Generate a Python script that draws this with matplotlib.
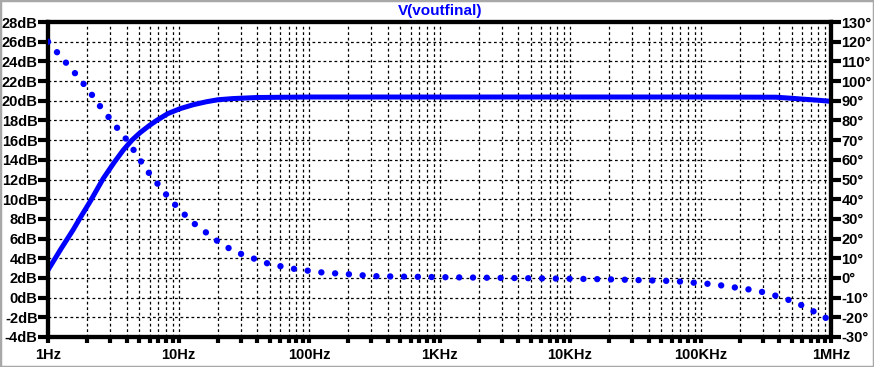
import matplotlib
matplotlib.use("Agg")
import matplotlib.pyplot as plt
from matplotlib.ticker import FixedLocator, LogLocator, NullFormatter
from matplotlib.patches import Rectangle

plt.rcParams['font.family'] = ['Liberation Sans', 'DejaVu Sans']

title = "V(voutfinal)"

# Magnitude (dB), left axis
mag_freq = [1, 1.25, 1.56, 1.8, 2.1, 2.65, 3.2, 3.78, 4.4, 5.07, 6.0, 6.8, 8.3, 10.3, 13, 16.4,
            20, 26, 40, 100, 1e3, 1e4, 1e5, 3.8e5, 5e5, 6.3e5, 8e5, 1e6]
mag_db = [2.8, 4.9, 6.9, 8.3, 9.75, 12.1, 13.7, 15.0, 16.0, 16.75, 17.5, 18.0, 18.7, 19.2, 19.6,
          19.9, 20.1, 20.22, 20.33, 20.38, 20.38, 20.38, 20.38, 20.36, 20.25, 20.15, 20.05, 19.94]

# Phase (degrees), right axis
ph_freq = [1, 1.61, 2.04, 2.5, 3.17, 4.12, 5.7, 8.1, 9.7, 12.6, 20.2, 25, 31.4, 50, 80, 129, 200,
           312, 1e3, 1e4, 2e4, 6.3e4, 1e5, 1.26e5, 1.58e5, 2e5, 2.51e5, 3.16e5, 3.98e5, 5.01e5,
           6.31e5, 7.85e5, 1e6]
ph_deg = [120, 104, 95.5, 87.3, 78.6, 69.2, 54.8, 42.1, 36.2, 28.6, 18.4, 14.6, 11.7, 7.0, 4.4,
          2.7, 1.9, 0.9, 0.4, -0.4, -0.7, -1.6, -2.7, -3.2, -4.2, -5.2, -6.1, -7.5, -9.5, -11.7,
          -14.6, -18.0, -21.7]

x_ticks = [1, 10, 100, 1e3, 1e4, 1e5, 1e6]
x_labels = ["1Hz", "10Hz", "100Hz", "1KHz", "10KHz", "100KHz", "1MHz"]
db_ticks = list(range(-4, 29, 2))
deg_ticks = list(range(-30, 131, 10))

W, H = 874, 367
fig = plt.figure(figsize=(W / 100, H / 100), dpi=100)
ax = fig.add_axes([48 / W, (H - 337) / H, 783 / W, 315 / H])
ax2 = ax.twinx()

blue = "#0000ff"
ax.set_xscale("log")
ax.set_xlim(1, 1e6)
ax.set_ylim(-4, 28)
ax2.set_ylim(-30, 130)

ax.xaxis.set_major_locator(FixedLocator(x_ticks))
ax.set_xticklabels(x_labels)
ax.xaxis.set_minor_locator(LogLocator(base=10, subs=range(2, 10)))
ax.xaxis.set_minor_formatter(NullFormatter())
ax.set_yticks(db_ticks)
ax.set_yticklabels([f"{v}dB" for v in db_ticks])
ax2.set_yticks(deg_ticks)
ax2.set_yticklabels([f"{v}°" for v in deg_ticks])

grid_kw = dict(color="black", linestyle=(0, (2.2, 2.2)), linewidth=0.9)
ax.grid(True, which="major", axis="both", **grid_kw)
ax.grid(True, which="minor", axis="x", **grid_kw)
ax.set_axisbelow(True)

ax.plot(mag_freq, mag_db, color=blue, linewidth=3.6, solid_capstyle="butt",
        solid_joinstyle="round", zorder=3)
ax2.plot(ph_freq, ph_deg, color=blue, linewidth=4.6, linestyle=(0, (0.01, 2.15)),
         dash_capstyle="round", zorder=3)

for a in (ax, ax2):
    for s in a.spines.values():
        s.set_linewidth(3)
        s.set_color("black")

ax.tick_params(axis="y", which="major", direction="out", length=7, width=3, pad=0.5,
               labelsize=10.5)
ax2.tick_params(axis="y", which="major", direction="out", length=7, width=3, pad=0.5,
                labelsize=10.5)
ax.tick_params(axis="x", which="both", direction="out", length=4, width=3, pad=4,
               labelsize=10.5)
for lbl in ax.get_yticklabels() + ax2.get_yticklabels() + ax.get_xticklabels():
    lbl.set_fontweight("bold")

fig.text(440 / W, 1 - 11 / H, title, ha="center", va="center", color=blue,
         fontsize=11, fontweight="bold")

fig.patches.append(Rectangle((0, 0), 1, 1, transform=fig.transFigure, fill=False,
                             edgecolor="#a8a8a8", linewidth=2.5))

fig.savefig("out.png", dpi=100)
